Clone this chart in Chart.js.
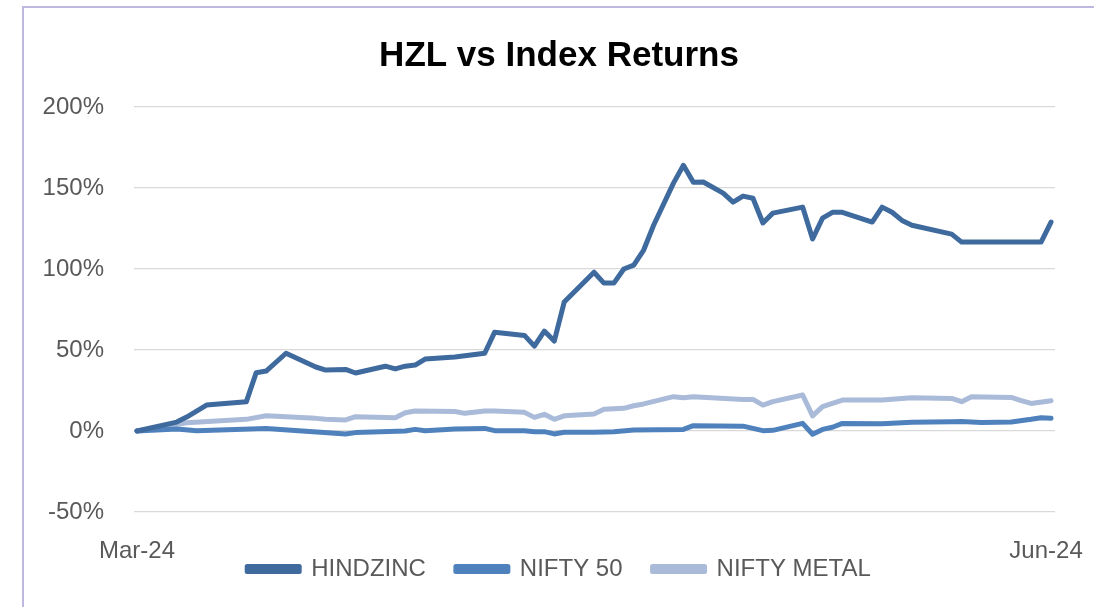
<!DOCTYPE html>
<html>
<head>
<meta charset="utf-8">
<script src="https://cdn.jsdelivr.net/npm/chart.js@4/dist/chart.umd.min.js"></script>
<style>
  html, body { margin: 0; padding: 0; background: #fff; overflow: hidden; }
  #frame { position: absolute; left: 22px; top: 6px; width: 1100px; height: 620px;
           border: 2px solid #bcb8de; }
  #wrap { position: absolute; left: 0; top: 0; width: 1070px; height: 599px; }
</style>
</head>
<body>
<div id="frame"><div id="wrap"><canvas id="myChart"></canvas></div></div>
<script>
  // x = trading day slot counted from start of March 2024, y = return in %
  var tickDays = [0, 91.5];
  var tickLabels = ["Mar-24", "Jun-24"];
  var yTicks = [-50, 0, 50, 100, 150, 200];

  var hindzinc = [[0,0],[4,5.5],[5,8.6],[7,16],[11,18],[12,36],[13,37],[15,48],[18,39.5],[19,37.6],
    [21,38],[22,35.8],[25,40],[26,38.3],[27,40],[28,40.7],[29,44.4],[32,45.7],[35,48],[36,61],
    [39,59],[40,52.4],[41,61.7],[42,55.5],[43,79.6],[46,98],[47,91.3],[48,91.3],[49,100],[50,102.4],
    [51,111.7],[52,127],[54,153],[55,164],[56,153.6],[57,153.7],[59,146.8],[60,141.3],[61,145],[62,143.7],
    [63,128.4],[64,134.5],[67,138.2],[68,118.5],[69,131.4],[70,135],[71,135],[74,129],[75,138.2],[76,135],
    [77,130],[78,127],[82,121.5],[83,116.6],[91,116.6],[92,129]];

  var nifty50 = [[0,0],[4,1.2],[6,0.2],[13,1.6],[21,-1.8],[22,-1],[27,0],[28,1],[29,0.2],[32,1.2],
    [35,1.6],[36,0.2],[39,0.2],[40,-0.4],[41,-0.4],[42,-1.8],[43,-0.8],[46,-0.8],[48,-0.4],[50,0.6],
    [55,1],[56,3.3],[61,3],[63,0.2],[64,0.4],[67,4.7],[68,-2],[69,1],[70,2.3],[71,4.7],
    [75,4.5],[78,5.4],[82,5.7],[83,5.8],[85,5.3],[88,5.5],[90,7.2],[91,8.2],[92,7.8]];

  var niftyMetal = [[0,0],[5,5.1],[11,7.2],[13,9.4],[18,7.8],[19,7.2],[21,6.8],[22,8.8],[26,8.2],[27,11.3],
    [28,12.3],[32,12],[33,10.9],[35,12.3],[36,12.3],[39,11.5],[40,8.4],[41,10.3],[42,7.2],[43,9.4],
    [46,10.5],[47,13.4],[49,14],[50,15.6],[51,16.7],[54,21.2],[55,20.5],[56,21.2],[61,19.5],[62,19.5],
    [63,16],[64,18.1],[67,22.2],[68,9.3],[69,15],[71,19.1],[75,19.1],[78,20.5],[82,20.1],[83,18.1],
    [84,21.2],[88,20.7],[89,18.7],[90,17],[92,18.7]];

  function pts(arr) {
    return arr.map(function (p) { return { x: p[0], y: p[1] }; });
  }

  // let tick labels spill out of their (squeezed) axis boxes
  function noClip(s) { s._computeLabelArea = function () { return undefined; }; }

  var ctx = document.getElementById("myChart").getContext('2d');
  var myChart = new Chart(ctx, {
    type: 'line',
    data: {
      datasets: [{
        label: 'HINDZINC',
        data: pts(hindzinc),
        borderColor: "#3f6a9e",
        backgroundColor: "#3f6a9e"
      },
      {
        label: 'NIFTY 50',
        data: pts(nifty50),
        borderColor: "#4f81bd",
        backgroundColor: "#4f81bd"
      },
      {
        label: 'NIFTY METAL',
        data: pts(niftyMetal),
        borderColor: "#aabad9",
        backgroundColor: "#aabad9"
      }]
    },
    options: {
      responsive: true,
      maintainAspectRatio: false,
      animation: false,
      elements: {
        line: { borderWidth: 5, tension: 0, borderJoinStyle: 'round', borderCapStyle: 'round' },
        point: { radius: 0 }
      },
      layout: { padding: { left: 39, right: 39, top: 0, bottom: 16 } },
      plugins: {
        title: {
          display: true,
          text: 'HZL vs Index Returns',
          color: '#000',
          font: { family: 'Liberation Sans', size: 35, weight: 'bold' },
          padding: { top: 27, bottom: 30 }
        },
        legend: {
          position: 'bottom',
          labels: {
            color: '#595959',
            font: { family: 'Liberation Sans', size: 24 },
            boxWidth: 52,
            boxHeight: 5,
            padding: 30
          }
        },
        tooltip: { enabled: false }
      },
      scales: {
        x: {
          type: 'linear',
          min: -0.3,
          max: 92.4,
          grid: { display: false },
          border: { display: false },
          afterBuildTicks: function (s) {
            s.ticks = tickDays.map(function (d) { return { value: d }; });
          },
          afterFit: function (s) {
            s.height = 15;
            s.paddingLeft = 0;
            s.paddingRight = 0;
            noClip(s);
          },
          ticks: {
            autoSkip: false,
            maxRotation: 0,
            padding: 17,
            color: '#595959',
            font: { family: 'Liberation Sans', size: 24 },
            callback: function (v, i) { return tickLabels[i]; }
          }
        },
        y: {
          min: -50,
          max: 200,
          afterFit: function (s) { s.width = 71; noClip(s); },
          afterBuildTicks: function (s) {
            s.ticks = yTicks.map(function (v) { return { value: v }; });
          },
          grid: { color: '#d9d9d9', lineWidth: 1.3, drawTicks: false },
          border: { display: false },
          ticks: {
            padding: 30,
            color: '#595959',
            font: { family: 'Liberation Sans', size: 24 },
            callback: function (v) { return v + '%'; }
          }
        }
      }
    }
  });
</script>
</body>
</html>
